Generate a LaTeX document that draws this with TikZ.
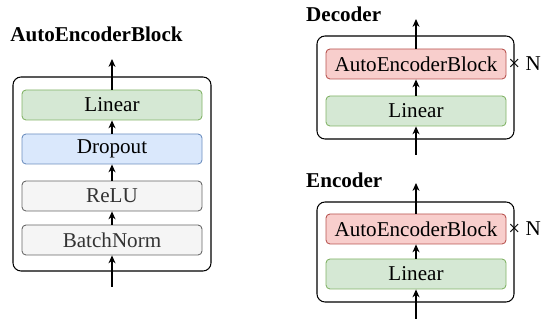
\documentclass[tikz,border=0pt]{standalone}
\usepackage{fontspec}
\setmainfont{Liberation Serif}
\usetikzlibrary{arrows.meta}
\definecolor{linfill}{HTML}{D5E8D4}
\definecolor{linedge}{HTML}{82B366}
\definecolor{dropfill}{HTML}{DAE8FC}
\definecolor{dropedge}{HTML}{6C8EBF}
\definecolor{grayfill}{HTML}{F5F5F5}
\definecolor{grayedge}{HTML}{666666}
\definecolor{graytext}{HTML}{333333}
\definecolor{aebfill}{HTML}{F8CECC}
\definecolor{aebedge}{HTML}{B85450}
\tikzset{
	layer/.style={draw, rounded corners=0.08cm, minimum width=3.6cm, minimum height=0.6cm, inner sep=0pt, line width=0.5pt},
	linlayer/.style={layer, fill=linfill, draw=linedge},
	droplayer/.style={layer, fill=dropfill, draw=dropedge},
	graylayer/.style={layer, fill=grayfill, draw=grayedge, text=graytext},
	aeblayer/.style={layer, fill=aebfill, draw=aebedge},
	frame/.style={draw, rounded corners=0.16cm, line width=0.6pt},
	flow/.style={->, line width=0.6pt}
}
\begin{document}
\begin{tikzpicture}[>={Stealth[length=4.5pt,width=4pt]}, font=\fontsize{12}{14}\selectfont]
	\useasboundingbox (0,0) rectangle (10.82,-6.42);
	% AutoEncoderBlock
	\node[anchor=base] (blocktitle) at (1.93,-0.84) {\bfseries AutoEncoderBlock};
	\draw[frame] (0.26,-1.54) rectangle (4.22,-5.42);
	\node[linlayer] (blin) at (2.24,-2.10) {Linear};
	\node[droplayer] (bdrop) at (2.24,-2.98) {Dropout};
	\node[graylayer] (brelu) at (2.24,-3.92) {ReLU};
	\node[graylayer] (bnorm) at (2.24,-4.80) {BatchNorm};
	\coordinate (bin) at (2.24,-5.74);
	\coordinate (bout) at (2.24,-1.18);
	\draw[flow] (bin) -- (bnorm);
	\draw[flow] (bnorm) -- (brelu);
	\draw[flow] (brelu) -- (bdrop);
	\draw[flow] (bdrop) -- (blin);
	\draw[flow] (blin) -- (bout);
	% Decoder
	\node[anchor=base west] (dectitle) at (6.0,-0.44) {\bfseries Decoder};
	\draw[frame] (6.34,-0.72) rectangle (10.28,-2.78);
	\node[aeblayer] (dblock) at (8.32,-1.28) {AutoEncoderBlock};
	\node[linlayer] (dlin) at (8.32,-2.22) {Linear};
	\node[anchor=west, inner sep=0pt] (dtimes) at (10.16,-1.28) {× N};
	\coordinate (din) at (8.32,-3.10);
	\coordinate (dout) at (8.32,-0.38);
	\draw[flow] (din) -- (dlin);
	\draw[flow] (dlin) -- (dblock);
	\draw[flow] (dblock) -- (dout);
	% Encoder
	\node[anchor=base west] (enctitle) at (6.0,-3.76) {\bfseries Encoder};
	\draw[frame] (6.34,-4.04) rectangle (10.28,-6.04);
	\node[aeblayer] (eblock) at (8.32,-4.58) {AutoEncoderBlock};
	\node[linlayer] (elin) at (8.32,-5.48) {Linear};
	\node[anchor=west, inner sep=0pt] (etimes) at (10.16,-4.58) {× N};
	\coordinate (ein) at (8.32,-6.38);
	\coordinate (eout) at (8.32,-3.66);
	\draw[flow] (ein) -- (elin);
	\draw[flow] (elin) -- (eblock);
	\draw[flow] (eblock) -- (eout);
\end{tikzpicture}
\end{document}
